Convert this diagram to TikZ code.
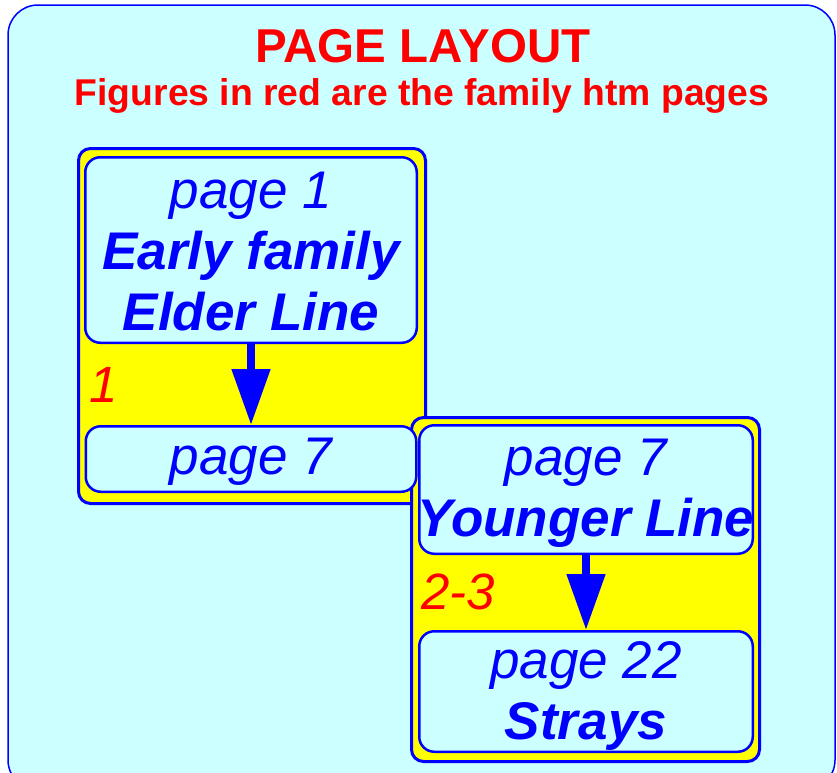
\documentclass[tikz,border=0pt]{standalone}
\usepackage{fontspec}
\setmainfont{Liberation Sans}
\usepackage{tikz}
\usetikzlibrary{arrows.meta, positioning}
\definecolor{bgcyan}{RGB}{204, 255, 255}
\definecolor{boxyellow}{RGB}{255, 255, 0}
\definecolor{lineblue}{RGB}{0, 0, 255}
\definecolor{figred}{RGB}{255, 0, 0}
\tikzstyle{groupbox} = [rectangle, draw=lineblue, fill=boxyellow, rounded corners=12pt, line width=3pt, inner sep=0pt]
\tikzstyle{pagebox} = [rectangle, draw=lineblue, fill=bgcyan, rounded corners=15pt, line width=2.5pt, inner sep=0pt]
\tikzstyle{pagetext} = [inner sep=0pt, text=lineblue, align=center, font=\fontsize{53}{61}\selectfont]
\tikzstyle{figlabel} = [anchor=base west, inner sep=0pt, text=figred, font=\fontsize{51}{61}\selectfont\itshape]
\tikzstyle{bigarrow} = [-{Triangle[length=56pt, width=37pt]}, line width=8pt, draw=lineblue, fill=lineblue]

\begin{document}
\begin{tikzpicture}[x=1pt, y=-1pt]
    \useasboundingbox (0, 0) rectangle (837, 772);
    \begin{scope}
    \clip (0, 0) rectangle (837, 772);
    % Background panel
    \draw[draw=lineblue, fill=bgcyan, line width=1.5pt, rounded corners=30pt] (8, 5) rectangle (835, 790);
    \end{scope}

    % Title
    \node[text=figred, font=\fontsize{47.5}{50}\selectfont\bfseries] (title) at (423, 46) {PAGE LAYOUT};
    \node[text=figred, font=\fontsize{37.3}{40}\selectfont\bfseries] (subtitle) at (422, 96) {Figures in red are the family htm pages};

    % Group boxes
    \node[groupbox, minimum width=347pt, minimum height=355pt] (earlybox) at (252, 326) {};
    \node[groupbox, minimum width=348pt, minimum height=344pt] (youngbox) at (585.5, 589.5) {};

    % Early family pages
    \node[pagebox, minimum width=331.5pt, minimum height=185.5pt] (pageone) at (251, 250) {};
    \node[pagetext] (pageonetext) at ([yshift=-2pt]pageone.center) {\itshape page 1\\\bfseries\itshape Early family\\\bfseries\itshape Elder Line};
    \node[pagebox, minimum width=330.5pt, minimum height=65.5pt] (pagesevenA) at (251, 459) {};
    \node[pagetext] (pagesevenAtext) at ([yshift=-3pt]pagesevenA.center) {\itshape page 7};
    \draw[bigarrow] (pageone) -- (pagesevenA);
    \node[figlabel] (figone) at (89, 402) {1};

    % Younger line pages
    \node[pagebox, minimum width=333.5pt, minimum height=128.5pt] (pagesevenB) at (586, 489.5) {};
    \node[pagetext] (pagesevenBtext) at ([yshift=-4pt]pagesevenB.center) {\itshape page 7\\\bfseries\itshape Younger Line};
    \node[pagebox, minimum width=333.5pt, minimum height=120.5pt] (pagetwotwo) at (586, 691.5) {};
    \node[pagetext] (pagetwotwotext) at ([yshift=-4pt]pagetwotwo.center) {\itshape page 22\\\bfseries\itshape Strays};
    \draw[bigarrow] (pagesevenB) -- (pagetwotwo);
    \node[figlabel] (figtwothree) at (421, 609) {2-3};
\end{tikzpicture}
\end{document}
